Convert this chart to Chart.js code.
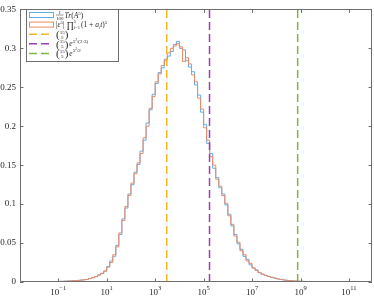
<!DOCTYPE html>
<html>
<head>
<meta charset="utf-8">
<script src="https://cdn.jsdelivr.net/npm/chart.js@4.4.0/dist/chart.umd.min.js"></script>
<style>
  html, body { margin: 0; padding: 0; background: #fff; overflow: hidden; }
</style>
</head>
<body>
<canvas id="histChart" width="374" height="297"></canvas>
<script>
// histogram bins, log10 edges
const binStart = -2;
const binWidth = 0.125;

// 1/100 Tr(A^5)
const traceValues = [
  0.0002, 0.0002, 0.0003, 0.0003, 0.0004, 0.0005, 0.0005, 0.0006,
  0.0008, 0.0009, 0.0011, 0.0012, 0.0015, 0.0017, 0.0020, 0.0023,
  0.0028, 0.0034, 0.0044, 0.0056, 0.0068, 0.0092, 0.0108, 0.0142,
  0.020, 0.027, 0.033, 0.047, 0.061, 0.081, 0.095, 0.113,
  0.125, 0.141, 0.151, 0.168, 0.182, 0.204, 0.221, 0.241,
  0.255, 0.269, 0.275, 0.286, 0.290, 0.296, 0.305, 0.309,
  0.300, 0.298, 0.284, 0.276, 0.270, 0.253, 0.240, 0.218,
  0.202, 0.178, 0.165, 0.146, 0.134, 0.121, 0.113, 0.099,
  0.087, 0.072, 0.061, 0.049, 0.042, 0.033, 0.029, 0.022,
  0.018, 0.0155, 0.0118, 0.0102, 0.0084, 0.0073, 0.0059, 0.0051,
  0.0040, 0.0034, 0.0026, 0.0022, 0.0018, 0.0015, 0.0012, 0.0010,
  0.0008, 0.0007, 0.0006, 0.0005, 0.0005, 0.0004, 0.0004, 0.0003,
  0.0003, 0.0003, 0.0002, 0.0002, 0.0002, 0.0001, 0, 0,
  0, 0, 0, 0
];

// |eps^5| prod (1 + a_i t)^5
const productValues = [
  0, 0, 0, 0, 0, 0.0004, 0.0005, 0.0006,
  0.0007, 0.0009, 0.0010, 0.0013, 0.0014, 0.0018, 0.0019, 0.0024,
  0.0027, 0.0032, 0.0046, 0.0054, 0.0072, 0.0088, 0.0112, 0.0138,
  0.019, 0.025, 0.035, 0.045, 0.063, 0.079, 0.097, 0.111,
  0.127, 0.139, 0.153, 0.165, 0.185, 0.200, 0.223, 0.238,
  0.257, 0.267, 0.278, 0.284, 0.294, 0.300, 0.303, 0.306,
  0.302, 0.283, 0.288, 0.280, 0.266, 0.257, 0.236, 0.222,
  0.198, 0.182, 0.161, 0.150, 0.132, 0.123, 0.111, 0.101,
  0.085, 0.074, 0.059, 0.051, 0.040, 0.035, 0.027, 0.024,
  0.018, 0.0148, 0.0122, 0.0098, 0.0086, 0.0071, 0.0061, 0.0049,
  0.0041, 0.0032, 0.0028, 0.0021, 0.0019, 0.0014, 0.0013, 0.0010,
  0.0009, 0.0007, 0.0006, 0.0006, 0.0005, 0.0004, 0.0004, 0.0003,
  0.0003, 0.0002, 0.0003, 0.0002, 0.0002, 0.0002, 0.0001, 0.0001,
  0.0001, 0.0001, 0.0001, 0.0001
];

// reference values: C(15,5), C(15,5)e^{..}, C(15,5)e^{..}
const refValues = [3003, 175000, 7.6e8];
const refColors = ['#F2B526', '#9B3FB5', '#7DB63A'];

const xTickPowers = [-1, 1, 3, 5, 7, 9, 11];
const yTickValues = [0, 0.05, 0.1, 0.15, 0.2, 0.25, 0.3, 0.35];

const blueColor = '#5eaee6';
const orangeColor = '#ee8a64';
const axisColor = '#6e6e6e';
const serif = '"Liberation Serif", "DejaVu Serif", serif';

function stairPoints(values) {
    const pts = [{ x: Math.pow(10, binStart), y: 0 }];
    values.forEach((v, i) => {
        pts.push({ x: Math.pow(10, binStart + i * binWidth), y: v });
    });
    pts.push({ x: Math.pow(10, binStart + values.length * binWidth), y: 0 });
    return pts;
}

const datasets = [
    {
        label: 'trace',
        data: stairPoints(traceValues),
        showLine: true, stepped: 'before',
        borderColor: blueColor, borderWidth: 1,
        pointRadius: 0, order: 2
    },
    {
        label: 'product',
        data: stairPoints(productValues),
        showLine: true, stepped: 'before',
        borderColor: orangeColor, borderWidth: 1,
        pointRadius: 0, order: 1
    }
];
refValues.forEach((v, i) => {
    datasets.push({
        label: 'ref' + i,
        data: [{ x: v, y: 0 }, { x: v, y: 0.35 }],
        showLine: true,
        borderColor: refColors[i], borderWidth: 1.5,
        borderDash: [8, 4],
        pointRadius: 0, order: 0
    });
});

// small helper to draw text pieces left to right
function drawRun(ctx, x, y, parts) {
    parts.forEach(p => {
        const size = p.size || 7.5;
        ctx.font = (p.italic ? 'italic ' : '') + size + 'px ' + serif;
        ctx.fillText(p.t, x, y - (p.dy || 0));
        x += ctx.measureText(p.t).width + (p.gap || 0);
    });
    return x;
}

function drawBinom(ctx, x, yc) {
    ctx.font = '11px ' + serif;
    ctx.fillText('(', x, yc + 4);
    const pw = ctx.measureText('(').width;
    ctx.font = '5px ' + serif;
    const w = ctx.measureText('15').width;
    ctx.textAlign = 'center';
    ctx.fillText('15', x + pw + w / 2, yc - 0.5);
    ctx.fillText('5', x + pw + w / 2, yc + 4.5);
    ctx.textAlign = 'left';
    ctx.font = '11px ' + serif;
    ctx.fillText(')', x + pw + w, yc + 4);
    return x + 2 * pw + w + 1;
}

const axesPlugin = {
    id: 'matlabAxes',
    afterDraw(chart) {
        const ctx = chart.ctx;
        const a = chart.chartArea;
        const xs = chart.scales.x, ys = chart.scales.y;
        ctx.save();
        ctx.strokeStyle = axisColor;
        ctx.lineWidth = 1;
        ctx.beginPath();
        ctx.rect(Math.round(a.left) + 0.5, Math.round(a.top) + 0.5,
                 Math.round(a.right - a.left) - 1, Math.round(a.bottom - a.top) - 1);
        // inward ticks
        xTickPowers.forEach(p => {
            const px = Math.round(xs.getPixelForValue(Math.pow(10, p))) + 0.5;
            ctx.moveTo(px, a.bottom); ctx.lineTo(px, a.bottom - 3.5);
            ctx.moveTo(px, a.top); ctx.lineTo(px, a.top + 3.5);
        });
        yTickValues.forEach(v => {
            const py = Math.round(ys.getPixelForValue(v)) + 0.5;
            ctx.moveTo(a.left, py); ctx.lineTo(a.left + 3.5, py);
            ctx.moveTo(a.right, py); ctx.lineTo(a.right - 3.5, py);
        });
        ctx.stroke();

        // x tick labels 10^p
        ctx.fillStyle = '#262626';
        ctx.textBaseline = 'alphabetic';
        xTickPowers.forEach(p => {
            const px = xs.getPixelForValue(Math.pow(10, p));
            const expo = p < 0 ? '\u2212' + (-p) : String(p);
            ctx.font = '9px ' + serif;
            const bw = ctx.measureText('10').width;
            ctx.font = '6.5px ' + serif;
            const ew = ctx.measureText(expo).width;
            const x0 = px - (bw + ew) / 2;
            ctx.font = '9px ' + serif;
            ctx.fillText('10', x0, 295);
            ctx.font = '6.5px ' + serif;
            ctx.fillText(expo, x0 + bw, 290);
        });

        // legend
        const lx = 26.5, ly = 9.5, lw = 92, lh = 52;
        ctx.fillStyle = '#fff';
        ctx.fillRect(lx, ly, lw, lh);
        ctx.strokeStyle = axisColor;
        ctx.strokeRect(lx, ly, lw, lh);
        const rows = [15, 24.6, 34.2, 43.8, 53.4];
        ctx.lineWidth = 1;
        ctx.strokeStyle = blueColor;
        ctx.strokeRect(29.5, rows[0] - 2.5, 24, 5);
        ctx.strokeStyle = orangeColor;
        ctx.strokeRect(29.5, rows[1] - 2.5, 24, 5);
        ctx.lineWidth = 1.5;
        ctx.setLineDash([8, 4]);
        refColors.forEach((c, i) => {
            ctx.strokeStyle = c;
            ctx.beginPath();
            ctx.moveTo(29, rows[2 + i]); ctx.lineTo(51, rows[2 + i]);
            ctx.stroke();
        });
        ctx.setLineDash([]);

        ctx.fillStyle = '#262626';
        const tx = 56;
        // row 1: 1/100 Tr(A^5)
        ctx.font = '5px ' + serif;
        const fw = ctx.measureText('100').width;
        ctx.textAlign = 'center';
        ctx.fillText('1', tx + fw / 2, rows[0] - 1);
        ctx.fillText('100', tx + fw / 2, rows[0] + 4.5);
        ctx.textAlign = 'left';
        ctx.lineWidth = 0.5;
        ctx.strokeStyle = '#262626';
        ctx.beginPath();
        ctx.moveTo(tx, rows[0]); ctx.lineTo(tx + fw, rows[0]);
        ctx.stroke();
        drawRun(ctx, tx + fw + 1, rows[0] + 2.5, [
            { t: 'Tr', italic: true }, { t: '(', }, { t: 'A', italic: true },
            { t: '5', size: 5, dy: 3 }, { t: ')' }
        ]);
        // row 2: |eps^5| prod_{i=1}^5 (1+a_i t)^5
        let x = drawRun(ctx, tx, rows[1] + 2.5, [
            { t: '|' }, { t: '\u03b5', italic: true }, { t: '5', size: 5, dy: 3 },
            { t: '|', gap: 2 }, { t: '\u220f', size: 9, dy: -0.5 }
        ]);
        ctx.font = '4.5px ' + serif;
        ctx.fillText('5', x, rows[1] - 1.5);
        ctx.fillText('i=1', x, rows[1] + 4.5);
        x += ctx.measureText('i=1').width + 1;
        drawRun(ctx, x, rows[1] + 2.5, [
            { t: '(1 + ' }, { t: 'a', italic: true }, { t: 'i', italic: true, size: 4.5, dy: -1.5 },
            { t: 't', italic: true }, { t: ')' }, { t: '5', size: 5, dy: 3 }
        ]);
        // rows 3-5: binomials
        drawBinom(ctx, tx, rows[2]);
        x = drawBinom(ctx, tx, rows[3]);
        drawRun(ctx, x, rows[3] + 2.5, [
            { t: 'e', italic: true }, { t: '5', size: 5, dy: 3.5 }, { t: '2', size: 3.5, dy: 5.5 },
            { t: '/(2\u00b73)', size: 5, dy: 3.5 }
        ]);
        x = drawBinom(ctx, tx, rows[4]);
        drawRun(ctx, x, rows[4] + 2.5, [
            { t: 'e', italic: true }, { t: '5', size: 5, dy: 3.5 }, { t: '2', size: 3.5, dy: 5.5 },
            { t: '/2', size: 5, dy: 3.5 }
        ]);
        ctx.restore();
    }
};

new Chart(document.getElementById('histChart'), {
    type: 'scatter',
    data: { datasets: datasets },
    options: {
        responsive: false,
        animation: false,
        devicePixelRatio: 1,
        layout: { padding: { top: 3, right: 2, left: 0, bottom: 0 } },
        plugins: { legend: { display: false }, tooltip: { enabled: false } },
        scales: {
            x: {
                type: 'logarithmic',
                min: Math.pow(10, -2.58),
                max: Math.pow(10, 11.95),
                grid: { display: false, drawTicks: false },
                border: { display: false },
                ticks: { display: false },
                afterBuildTicks: s => { s.ticks = xTickPowers.map(p => ({ value: Math.pow(10, p) })); },
                afterFit: s => { s.height = 15; }
            },
            y: {
                min: 0,
                max: 0.35,
                grid: { display: false, drawTicks: false },
                border: { display: false },
                afterBuildTicks: s => { s.ticks = yTickValues.map(v => ({ value: v })); },
                ticks: {
                    padding: 4,
                    color: '#262626',
                    font: { family: serif, size: 9 },
                    callback: v => String(Math.round(v * 100) / 100)
                },
                afterFit: s => { s.width = 20; }
            }
        }
    },
    plugins: [axesPlugin]
});
</script>
</body>
</html>
